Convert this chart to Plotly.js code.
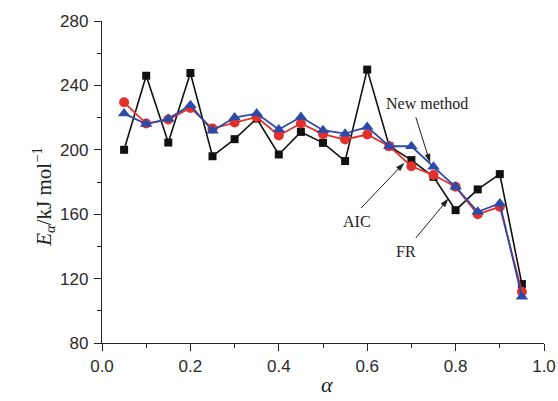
<!DOCTYPE html>
<html>
<head>
<meta charset="utf-8">
<script src="https://cdn.plot.ly/plotly-3.0.1.min.js"></script>
<style>html,body{margin:0;padding:0;background:#fff;}#chart{width:558px;height:401px;}</style>
</head>
<body>
<div id="chart"></div>
<script>
const alphaVals = [0.05,0.10,0.15,0.20,0.25,0.30,0.35,0.40,0.45,0.50,0.55,0.60,0.65,0.70,0.75,0.80,0.85,0.90,0.95];
const frVals  = [200,246,204.5,247.7,196,206.6,219.4,197.1,211.1,204.3,193,249.8,202.2,193.6,183.2,162.5,175.4,184.9,116.6];
const aicVals = [229.5,216.3,218.8,226,213.2,217,220.4,208.9,216.3,209.7,206.4,209.5,202.2,189.8,184.3,177,160,164.6,111.8];
const newVals = [222.5,216,219.2,227.7,211.8,220,222.5,212.6,220.4,212.2,210,214.2,202.2,202.2,189.4,177,161.5,166.7,108.7];
const yTicks = [80,120,160,200,240,280];
const xTicks = [0.0,0.2,0.4,0.6,0.8,1.0];

// label arrows: [tailX, tailY, headX, headY] in data units
const arrows = [
  [0.710, 220.2, 0.742, 192.3],
  [0.586, 163.8, 0.683, 191.7],
  [0.710, 145.2, 0.783, 169.4]
];

const traces = [
  {x: alphaVals, y: frVals, name: 'FR', mode: 'lines+markers',
   line: {color: '#111111', width: 1.6},
   marker: {symbol: 'square', size: 8, color: '#111111'}},
  {x: alphaVals, y: aicVals, name: 'AIC', mode: 'lines+markers',
   line: {color: '#e3302a', width: 1.8},
   marker: {symbol: 'circle', size: 10, color: '#e3302a'}},
  {x: alphaVals, y: newVals, name: 'New method', mode: 'lines+markers',
   line: {color: '#2c4aa8', width: 1.8},
   marker: {symbol: 'triangle-up', size: 11, color: '#2c4aa8'}}
];

const W = 558, H = 401, mL = 102, mR = 14, mT = 21, mB = 58;
const xR = [0, 1.0], yR = [80, 280];
const pw = W - mL - mR, ph = H - mT - mB;
const toPx = (x, y) => [(x - xR[0]) / (xR[1] - xR[0]) * pw, (y - yR[0]) / (yR[1] - yR[0]) * ph];
const toData = (px, py) => [xR[0] + px / pw * (xR[1] - xR[0]), yR[0] + py / ph * (yR[1] - yR[0])];

const shapes = [];
arrows.forEach(([tx, ty, hx, hy]) => {
  const [tpx, tpy] = toPx(tx, ty), [hpx, hpy] = toPx(hx, hy);
  const dx = hpx - tpx, dy = hpy - tpy, L = Math.hypot(dx, dy);
  const ux = dx / L, uy = dy / L, nx = -uy, ny = ux;
  const hl = 8, hw = 2.6;
  const bx = hpx - ux * hl, by = hpy - uy * hl;
  const [lx, ly] = toData(tpx, tpy);
  const [ex, ey] = toData(bx + ux * 2, by + uy * 2);
  shapes.push({type: 'line', xref: 'x', yref: 'y', x0: lx, y0: ly, x1: ex, y1: ey,
               line: {color: '#222', width: 1}});
  const p1 = toData(hpx, hpy), p2 = toData(bx + nx * hw, by + ny * hw), p3 = toData(bx - nx * hw, by - ny * hw);
  shapes.push({type: 'path', xref: 'x', yref: 'y',
               path: `M ${p1[0]} ${p1[1]} L ${p2[0]} ${p2[1]} L ${p3[0]} ${p3[1]} Z`,
               fillcolor: '#222', line: {color: '#222', width: 0.5}});
});

const serif = 'Liberation Serif, Times New Roman, serif';
const annFont = {family: serif, size: 16, color: '#222'};
const layout = {
  width: W, height: H,
  margin: {l: mL, r: mR, t: mT, b: mB},
  paper_bgcolor: '#fff', plot_bgcolor: '#fff',
  showlegend: false,
  xaxis: {
    range: xR, tickvals: xTicks, ticktext: xTicks.map(v => v.toFixed(1)),
    ticks: 'outside', ticklen: 7, tickwidth: 1, tickcolor: '#222',
    showline: true, linecolor: '#222', linewidth: 1.2, mirror: false,
    showgrid: false, zeroline: false,
    minor: {ticks: 'outside', ticklen: 4, tickcolor: '#222', dtick: 0.1, tick0: 0, showgrid: false},
    tickfont: {family: 'Liberation Sans, Arial, sans-serif', size: 17, color: '#2a2a2a'},
    ticklabelstandoff: 0
  },
  yaxis: {
    range: yR, tickvals: yTicks,
    ticks: 'outside', ticklen: 7, tickwidth: 1, tickcolor: '#222',
    showline: true, linecolor: '#222', linewidth: 1.2, mirror: false,
    showgrid: false, zeroline: false,
    minor: {ticks: 'outside', ticklen: 4, tickcolor: '#222', dtick: 20, tick0: 80, showgrid: false},
    tickfont: {family: 'Liberation Sans, Arial, sans-serif', size: 17, color: '#2a2a2a'},
    ticklabelstandoff: 2
  },
  shapes: shapes,
  annotations: [
    {xref: 'paper', yref: 'paper', x: -0.170, y: 0.455, textangle: -90, showarrow: false,
     text: '<i>E</i><sub><i>α</i></sub>/kJ mol<sup>−1</sup>', font: {family: serif, size: 21, color: '#222'}},
    {xref: 'paper', yref: 'paper', x: 0.509, y: -0.175, showarrow: false,
     text: '<i>α</i>', font: {family: serif, size: 22, color: '#222'}},
    {x: 0.735, y: 228.9, text: 'New method', showarrow: false, font: annFont},
    {x: 0.577, y: 155.7, text: 'AIC', showarrow: false, font: annFont},
    {x: 0.688, y: 137, text: 'FR', showarrow: false, font: annFont}
  ]
};
Plotly.newPlot('chart', traces, layout, {displayModeBar: false, staticPlot: true}).then(gd => {
  // drop Plotly's empty placeholder title nodes
  gd.querySelectorAll('text').forEach(t => { if (!t.textContent.trim()) t.remove(); });
});
</script>
</body>
</html>
